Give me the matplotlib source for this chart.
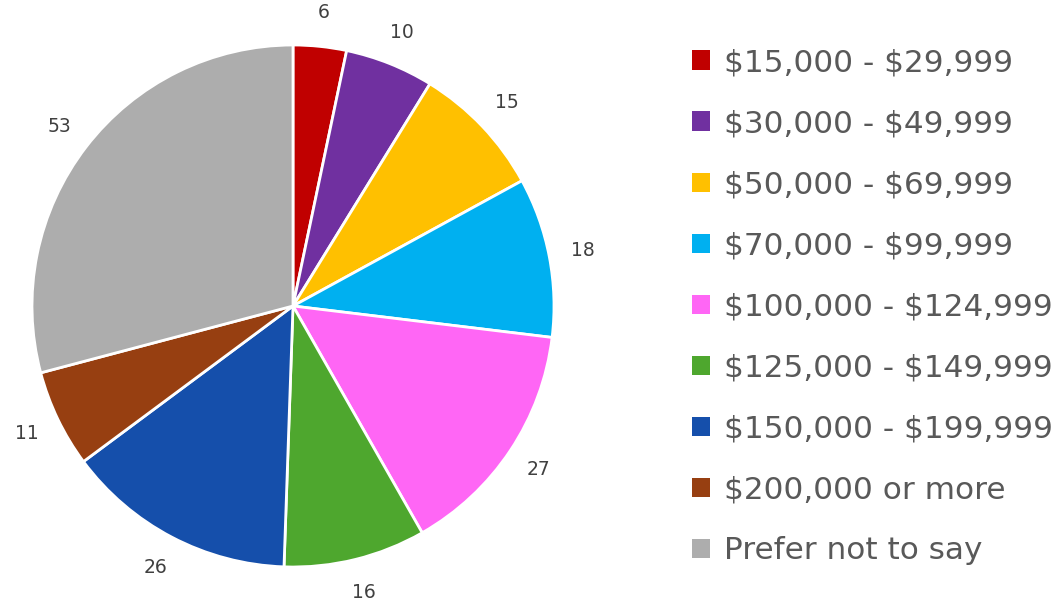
import matplotlib.pyplot as plt

plt.rcParams["text.parse_math"] = False

# income brackets and counts
brackets = ["$15,000 - $29,999", "$30,000 - $49,999", "$50,000 - $69,999",
            "$70,000 - $99,999", "$100,000 - $124,999", "$125,000 - $149,999",
            "$150,000 - $199,999", "$200,000 or more", "Prefer not to say"]
counts = [6, 10, 15, 18, 27, 16, 26, 11, 53]
colors = ["#C00000", "#7030A0", "#FFC000", "#00B0F0", "#FF66F5",
          "#4EA72E", "#154FAB", "#973F11", "#ADADAD"]

W, H = 1056, 602
fig = plt.figure(figsize=(W / 100, H / 100), dpi=100)

cx, cy, r = 293, 306, 261
ax = fig.add_axes([(cx - r) / W, (H - cy - r) / H, 2 * r / W, 2 * r / H])

wedges, texts = ax.pie(counts, labels=[str(c) for c in counts], colors=colors,
                       startangle=90, counterclock=False, labeldistance=1.13,
                       wedgeprops=dict(edgecolor="white", linewidth=2),
                       textprops=dict(fontsize=13.5, color="#404040",
                                      ha="center", va="center"))
ax.set_xlim(-1, 1)
ax.set_ylim(-1, 1)
ax.set_aspect("equal")

leg = fig.legend(wedges, brackets, loc="upper left", bbox_to_anchor=(692 / W, 1 - 48 / H),
                 frameon=False, fontsize=22.4, labelcolor="#595959",
                 handlelength=0.57, handleheight=0.57, handletextpad=0.45,
                 labelspacing=1.03, borderpad=0, borderaxespad=0)
for h in leg.legend_handles:
    h.set_edgecolor("none")

fig.savefig("out.png", dpi=100)
